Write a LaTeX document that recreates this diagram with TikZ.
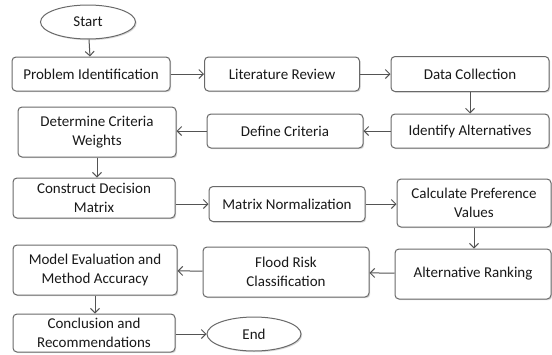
\documentclass[tikz,border=0pt]{standalone}
\usepackage{fontspec}
\setmainfont{Carlito}
\usepackage{xcolor}
\usepackage{tikz}
\usetikzlibrary{arrows.meta,shapes.geometric,shadows}
\definecolor{edgegray}{RGB}{105,105,105}
\definecolor{textgray}{RGB}{25,25,25}
\tikzset{
  box/.style={draw=edgegray, line width=1pt, rounded corners=4pt, fill=white, align=center,
    inner sep=1pt, text=textgray, font=\fontsize{15}{19}\selectfont,
    drop shadow={shadow xshift=1.2pt, shadow yshift=-1.2pt, fill=black!30}},   % process step
  term/.style={box, ellipse, rounded corners=0pt},                             % start / end
  flowArrow/.style={-{Straight Barb[length=4.5pt,width=9pt]}, draw=edgegray!80!black, line width=1pt}
}

\begin{document}
\begin{tikzpicture}[x=1pt,y=-1pt]
  \useasboundingbox[fill=white] (0,0) rectangle (552,354);

  \node[term,minimum width=95,minimum height=34] (start) at (88,22) {Start};
  \node[box,minimum width=158,minimum height=34] (prob) at (91,74) {Problem Identification};
  \node[box,minimum width=155,minimum height=34] (lit) at (282,74) {Literature Review};
  \node[box,minimum width=158,minimum height=35] (data) at (470,74) {Data Collection};

  \node[box,minimum width=158,minimum height=34] (ident) at (470,131) {Identify Alternatives};
  \node[box,minimum width=156,minimum height=34] (define) at (285,131) {Define Criteria};
  \node[box,minimum width=158,minimum height=50] (weights) at (97,132) {Determine Criteria\\Weights};

  \node[box,minimum width=162,minimum height=40] (matrix) at (94,198) {Construct Decision\\Matrix};
  \node[box,minimum width=156,minimum height=35] (norm) at (287,204) {Matrix Normalization};
  \node[box,minimum width=154,minimum height=48] (pref) at (474,203) {Calculate Preference\\Values};

  \node[box,minimum width=156,minimum height=50] (rank) at (473,274) {Alternative Ranking};
  \node[box,minimum width=166,minimum height=50] (flood) at (286,272) {Flood Risk\\Classification};
  \node[box,minimum width=164,minimum height=50] (eval) at (95,270) {Model Evaluation and\\Method Accuracy};

  \node[box,minimum width=162,minimum height=38] (concl) at (94,333) {Conclusion and\\Recommendations};
  \node[term,minimum width=94,minimum height=34] (end) at (254,334) {End};

  \draw[flowArrow] (start) -- (prob);
  \draw[flowArrow] (prob) -- (lit);
  \draw[flowArrow] (lit) -- (data);
  \draw[flowArrow] (data) -- (ident);
  \draw[flowArrow] (ident) -- (define);
  \draw[flowArrow] (define.west) -- (define.west -| weights.east);
  \draw[flowArrow] (weights.south) -- (weights.south |- matrix.north);
  \draw[flowArrow] (matrix.east |- norm.west) -- (norm.west);
  \draw[flowArrow] (norm.east) -- (norm.east -| pref.west);
  \draw[flowArrow] (pref.south) -- (pref.south |- rank.north);
  \draw[flowArrow] (rank) -- (flood);
  \draw[flowArrow] (flood) -- (eval);
  \draw[flowArrow] (eval.south) -- (eval.south |- concl.north);
  \draw[flowArrow] (concl.east |- end.west) -- (end.west);
\end{tikzpicture}
\end{document}
